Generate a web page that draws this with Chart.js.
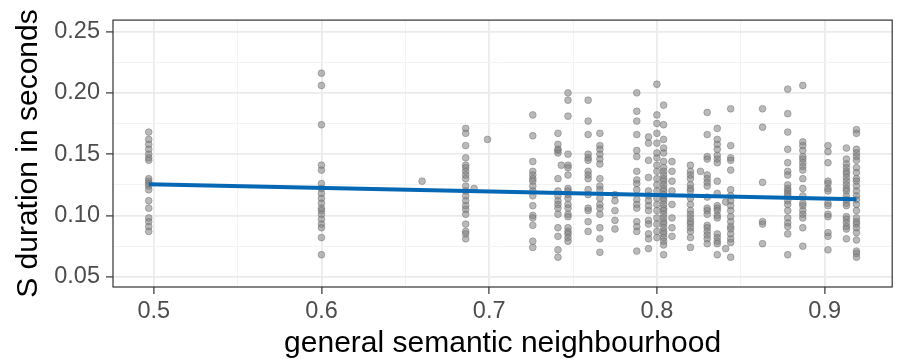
<!DOCTYPE html>
<html lang="en">
<head>
    <meta charset="UTF-8">
    <title>S duration vs general semantic neighbourhood</title>
    <script src="https://cdn.jsdelivr.net/npm/chart.js"></script>
    <style>
        body { margin: 0; background: #fff; }
    </style>
</head>
<body>
    <canvas id="durationChart" width="897" height="359"></canvas>
    <script>
        // neighbourhood values (x) where the points are stacked
        const colX = [0.497, 0.600, 0.660, 0.686, 0.691, 0.699, 0.726, 0.741, 0.743, 0.747,
                      0.759, 0.766, 0.775, 0.788, 0.795, 0.800, 0.804, 0.809, 0.820, 0.826,
                      0.830, 0.836, 0.841, 0.844, 0.863, 0.878, 0.887, 0.902, 0.913, 0.919];

        // S durations (seconds) for each column above
        const colY = [
            [0.168, 0.162, 0.158, 0.154, 0.150, 0.147, 0.145, 0.130, 0.128, 0.126, 0.124, 0.121, 0.112, 0.106, 0.098, 0.095, 0.091, 0.087],
            [0.216, 0.206, 0.174, 0.141, 0.137, 0.126, 0.122, 0.118, 0.114, 0.110, 0.106, 0.104, 0.101, 0.097, 0.093, 0.090, 0.082, 0.068],
            [0.128],
            [0.171, 0.167, 0.157, 0.147, 0.141, 0.139, 0.136, 0.133, 0.130, 0.124, 0.120, 0.116, 0.112, 0.108, 0.105, 0.101, 0.093, 0.087, 0.085, 0.081],
            [0.122],
            [0.162],
            [0.182, 0.165, 0.144, 0.136, 0.133, 0.130, 0.128, 0.124, 0.120, 0.116, 0.108, 0.100, 0.098, 0.092, 0.079, 0.074],
            [0.167, 0.158, 0.154, 0.153, 0.151, 0.130, 0.120, 0.116, 0.112, 0.109, 0.106, 0.101, 0.090, 0.083, 0.072, 0.066],
            [0.141],
            [0.200, 0.194, 0.181, 0.150, 0.141, 0.139, 0.133, 0.122, 0.120, 0.117, 0.114, 0.109, 0.106, 0.101, 0.099, 0.090, 0.087, 0.085, 0.082, 0.079],
            [0.194, 0.177, 0.166, 0.150, 0.147, 0.145, 0.136, 0.133, 0.130, 0.121, 0.117, 0.106, 0.104, 0.095, 0.087],
            [0.167, 0.157, 0.154, 0.150, 0.146, 0.142, 0.130, 0.124, 0.121, 0.114, 0.109, 0.106, 0.101, 0.090, 0.081, 0.070],
            [0.117, 0.112, 0.104, 0.096, 0.089],
            [0.200, 0.185, 0.177, 0.166, 0.153, 0.148, 0.136, 0.129, 0.126, 0.121, 0.113, 0.109, 0.106, 0.095, 0.091, 0.087, 0.071],
            [0.164, 0.159, 0.145, 0.131, 0.120, 0.116, 0.112, 0.108, 0.104, 0.096, 0.093, 0.085, 0.081, 0.073],
            [0.207, 0.182, 0.175, 0.167, 0.159, 0.151, 0.147, 0.141, 0.136, 0.130, 0.125, 0.120, 0.114, 0.109, 0.104, 0.098, 0.093, 0.087, 0.082],
            [0.190, 0.174, 0.162, 0.155, 0.151, 0.144, 0.139, 0.136, 0.133, 0.130, 0.128, 0.125, 0.122, 0.120, 0.117, 0.114, 0.112, 0.109, 0.106, 0.104,
             0.101, 0.098, 0.095, 0.093, 0.090, 0.087, 0.085, 0.082, 0.079, 0.076, 0.068],
            [0.144, 0.136, 0.128, 0.120, 0.109, 0.098, 0.090, 0.083],
            [0.141, 0.136, 0.133, 0.130, 0.125, 0.122, 0.120, 0.114, 0.109, 0.104, 0.101, 0.098, 0.095, 0.093, 0.090, 0.087, 0.082, 0.074],
            [0.136],
            [0.184, 0.166, 0.148, 0.146, 0.133, 0.130, 0.127, 0.124, 0.115, 0.106, 0.104, 0.101, 0.092, 0.090, 0.087, 0.084, 0.081, 0.077],
            [0.171, 0.162, 0.158, 0.154, 0.149, 0.146, 0.143, 0.128, 0.118, 0.108, 0.106, 0.104, 0.100, 0.098, 0.085, 0.082, 0.079, 0.077, 0.068],
            [0.111, 0.073],
            [0.187, 0.157, 0.147, 0.145, 0.137, 0.121, 0.116, 0.112, 0.108, 0.104, 0.099, 0.095, 0.091, 0.089, 0.085, 0.081, 0.078, 0.066],
            [0.187, 0.172, 0.127, 0.095, 0.093, 0.077],
            [0.203, 0.183, 0.168, 0.154, 0.143, 0.136, 0.133, 0.125, 0.122, 0.120, 0.118, 0.116, 0.112, 0.109, 0.104, 0.098, 0.094, 0.091, 0.085, 0.068],
            [0.206, 0.160, 0.157, 0.153, 0.148, 0.146, 0.143, 0.140, 0.137, 0.130, 0.122, 0.116, 0.110, 0.108, 0.104, 0.101, 0.098, 0.090, 0.075],
            [0.157, 0.152, 0.143, 0.128, 0.126, 0.122, 0.120, 0.110, 0.108, 0.101, 0.099, 0.086, 0.083, 0.072],
            [0.155, 0.146, 0.142, 0.139, 0.136, 0.134, 0.131, 0.128, 0.125, 0.122, 0.120, 0.116, 0.113, 0.110, 0.108, 0.099, 0.097, 0.094, 0.091, 0.089, 0.081],
            [0.170, 0.167, 0.154, 0.151, 0.148, 0.145, 0.139, 0.135, 0.130, 0.128, 0.124, 0.120, 0.116, 0.113, 0.109, 0.104, 0.098, 0.095, 0.093, 0.090,
             0.086, 0.080, 0.071, 0.069, 0.066]
        ];

        // linear fit end points
        const fitX = [0.497, 0.919];
        const fitY = [0.1255, 0.1132];

        const xTicks = [0.5, 0.6, 0.7, 0.8, 0.9];
        const yTicks = [0.05, 0.10, 0.15, 0.20, 0.25];

        const points = [];
        colX.forEach((x, i) => colY[i].forEach(y => points.push({ x: x, y: y })));
        const fitLine = fitX.map((x, i) => ({ x: x, y: fitY[i] }));

        // major ticks plus the minor ones half way between
        function withMinor(major, lo, hi) {
            const step = major[1] - major[0];
            const out = [];
            for (let v = major[0] - step / 2; v <= hi + 1e-9; v += step / 2) {
                if (v >= lo - 1e-9) out.push(+v.toFixed(4));
            }
            return out;
        }
        const isMajor = (v, major) => major.some(m => Math.abs(m - v) < 1e-6);

        // panel border like ggplot theme_bw
        const panelBorder = {
            id: 'panelBorder',
            afterDraw(chart) {
                const { ctx, chartArea: a } = chart;
                ctx.save();
                ctx.strokeStyle = '#333333';
                ctx.lineWidth = 1.2;
                ctx.strokeRect(a.left, a.top, a.right - a.left, a.bottom - a.top);
                ctx.restore();
            }
        };

        const tickFont = { family: 'Liberation Sans, Arial, sans-serif', size: 23.5 };
        const titleFont = { family: 'Liberation Sans, Arial, sans-serif', size: 30, lineHeight: 1 };

        new Chart(document.getElementById('durationChart'), {
            type: 'scatter',
            data: {
                datasets: [
                    {
                        type: 'line',
                        data: fitLine,
                        borderColor: '#0668b5',
                        borderWidth: 4,
                        pointRadius: 0,
                        order: 0
                    },
                    {
                        data: points,
                        backgroundColor: 'rgba(128,128,128,0.55)',
                        borderColor: 'rgba(105,105,105,0.55)',
                        borderWidth: 0.8,
                        pointRadius: 3.4,
                        order: 1
                    }
                ]
            },
            options: {
                responsive: false,
                animation: false,
                layout: { padding: { top: 18, right: 1 } },
                plugins: { legend: { display: false }, tooltip: { enabled: false } },
                scales: {
                    x: {
                        type: 'linear',
                        min: 0.4757,
                        max: 0.9403,
                        afterBuildTicks: s => { s.ticks = withMinor(xTicks, s.min, s.max).map(v => ({ value: v })); },
                        afterFit: s => { s.height = 72; },
                        border: { display: false },
                        grid: {
                            color: c => isMajor(c.tick.value, xTicks) ? '#ebebeb' : '#f3f3f3',
                            lineWidth: c => isMajor(c.tick.value, xTicks) ? 1.8 : 1,
                            tickColor: c => isMajor(c.tick.value, xTicks) ? '#333333' : 'rgba(0,0,0,0)',
                            tickWidth: 1.2,
                            tickLength: 7
                        },
                        ticks: {
                            color: '#4d4d4d',
                            font: tickFont,
                            padding: 3,
                            maxRotation: 0,
                            autoSkip: false,
                            callback: v => isMajor(v, xTicks) ? String(+v.toFixed(1)) : ''
                        },
                        title: {
                            display: true,
                            text: 'general semantic neighbourhood',
                            color: '#000000',
                            font: titleFont,
                            padding: { top: 0, bottom: 0 }
                        }
                    },
                    y: {
                        min: 0.0417,
                        max: 0.2593,
                        afterBuildTicks: s => { s.ticks = withMinor(yTicks, s.min, s.max).map(v => ({ value: v })); },
                        afterFit: s => { s.width = 113; },
                        border: { display: false },
                        grid: {
                            color: c => isMajor(c.tick.value, yTicks) ? '#ebebeb' : '#f3f3f3',
                            lineWidth: c => isMajor(c.tick.value, yTicks) ? 1.8 : 1,
                            tickColor: c => isMajor(c.tick.value, yTicks) ? '#333333' : 'rgba(0,0,0,0)',
                            tickWidth: 1.2,
                            tickLength: 7
                        },
                        ticks: {
                            color: '#4d4d4d',
                            font: tickFont,
                            padding: 6,
                            autoSkip: false,
                            callback: v => isMajor(v, yTicks) ? v.toFixed(2) : ''
                        },
                        title: {
                            display: true,
                            text: 'S duration in seconds',
                            color: '#000000',
                            font: titleFont,
                            padding: { top: 14, bottom: 0 }
                        }
                    }
                }
            },
            plugins: [panelBorder]
        });
    </script>
</body>
</html>
